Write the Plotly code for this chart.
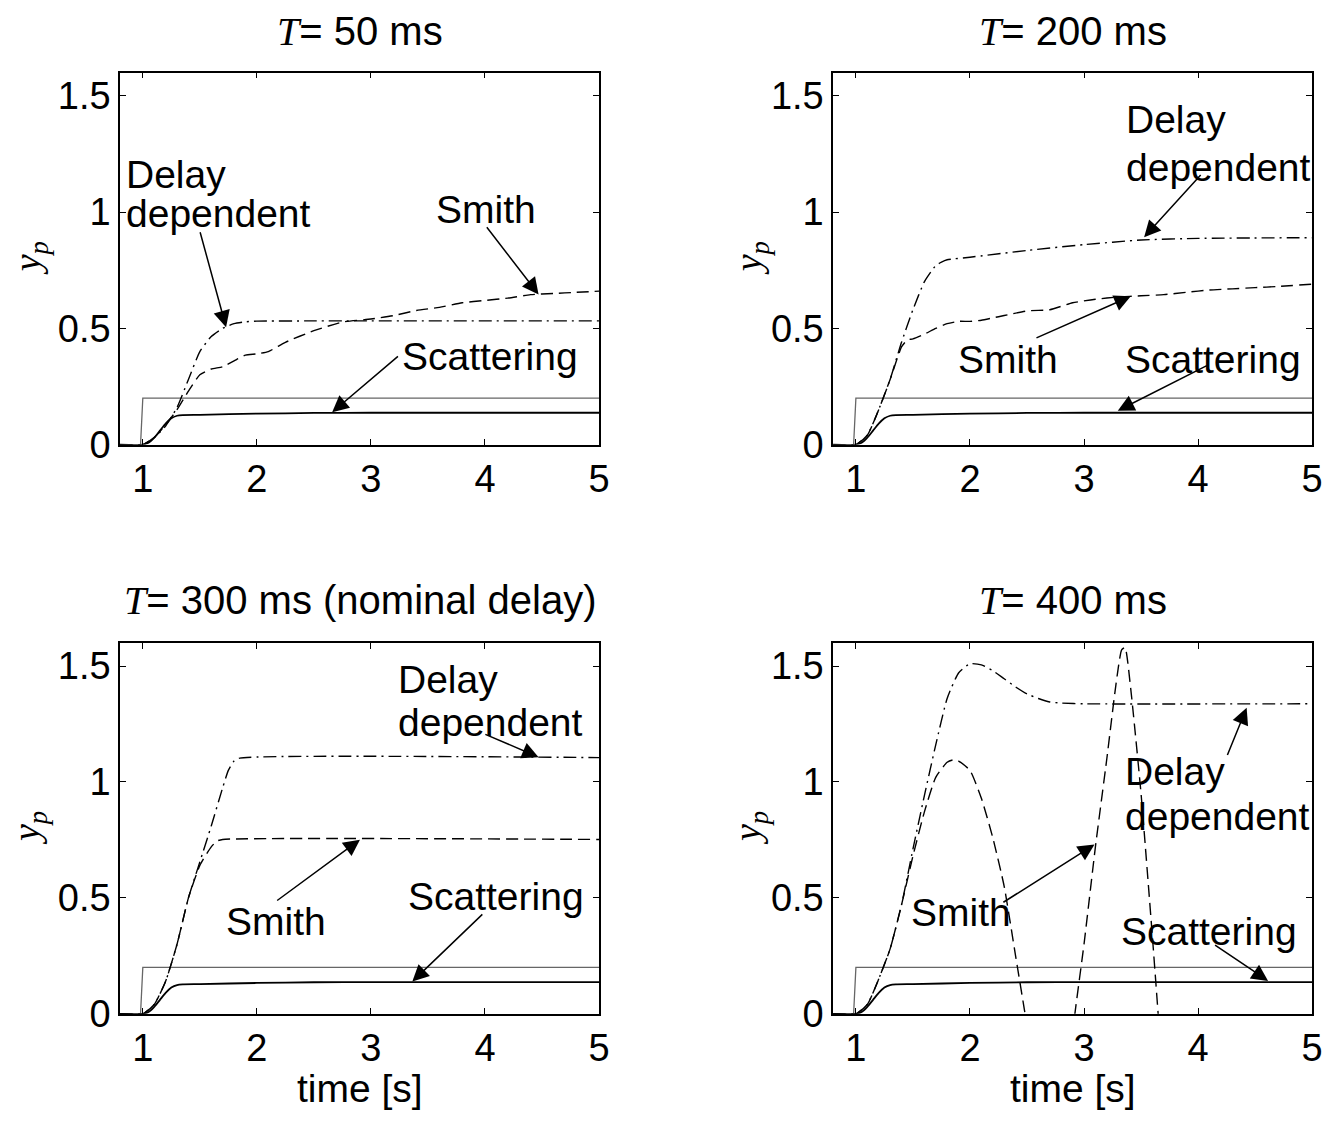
import plotly.graph_objects as go

# ---------------- data ----------------
ref_x = [0.8, 0.98, 1.0, 5.0]
ref_y = [0.0, 0.0, 0.2, 0.2]

scat_x = [0.8, 1.0, 1.05, 1.1, 1.15, 1.2, 1.25, 1.3, 1.35, 1.5, 2.0, 2.5, 3.0, 5.0]
scat_y = [0.0, 0.0, 0.008, 0.03, 0.06, 0.09, 0.113, 0.124, 0.127, 0.128, 0.133, 0.136, 0.137, 0.137]

# T = 50 ms
dd50_x = [0.8, 1.0, 1.1, 1.2, 1.3, 1.4, 1.5, 1.6, 1.7, 1.8, 1.9, 2.0, 2.5, 5.0]
dd50_y = [0.0, 0.0, 0.03, 0.08, 0.16, 0.28, 0.40, 0.465, 0.50, 0.52, 0.528, 0.531, 0.532, 0.532]
sm50_x = [0.8, 1.0, 1.1, 1.2, 1.3, 1.4, 1.5, 1.6, 1.7, 1.8, 1.9, 2.0, 2.1, 2.25, 2.5, 2.75,
          3.0, 3.2, 3.4, 3.6, 3.8, 4.0, 4.2, 4.4, 4.6, 4.8, 5.0]
sm50_y = [0.0, 0.0, 0.03, 0.085, 0.15, 0.23, 0.30, 0.325, 0.335, 0.36, 0.385, 0.39, 0.40, 0.44,
          0.49, 0.527, 0.54, 0.555, 0.577, 0.59, 0.61, 0.62, 0.63, 0.645, 0.65, 0.655, 0.66]

# T = 200 ms
dd200_x = [0.8, 1.0, 1.1, 1.2, 1.3, 1.4, 1.5, 1.6, 1.7, 1.75, 1.8, 2.0, 2.5, 3.0, 3.5, 4.0, 5.0]
dd200_y = [0.0, 0.0, 0.04, 0.15, 0.28, 0.44, 0.58, 0.70, 0.77, 0.785, 0.795, 0.806, 0.835,
           0.86, 0.88, 0.887, 0.89]
sm200_x = [0.8, 1.0, 1.1, 1.2, 1.3, 1.4, 1.45, 1.5, 1.6, 1.7, 1.8, 1.9, 2.0, 2.1, 2.2, 2.3, 2.5,
           2.7, 2.9, 3.1, 3.3, 3.5, 3.7, 3.9, 4.1, 4.3, 4.5, 4.7, 5.0]
sm200_y = [0.0, 0.0, 0.04, 0.15, 0.28, 0.42, 0.45, 0.455, 0.475, 0.50, 0.52, 0.53, 0.53, 0.535,
           0.545, 0.555, 0.575, 0.58, 0.61, 0.625, 0.635, 0.64, 0.645, 0.655, 0.665, 0.67,
           0.675, 0.68, 0.69]

# T = 300 ms
dd300_x = [0.8, 1.0, 1.1, 1.2, 1.3, 1.4, 1.5, 1.6, 1.7, 1.75, 1.8, 1.85, 5.0]
dd300_y = [0.0, 0.0, 0.04, 0.14, 0.30, 0.50, 0.655, 0.81, 0.975, 1.05, 1.09, 1.103, 1.105]
sm300_x = [0.8, 1.0, 1.1, 1.2, 1.3, 1.4, 1.5, 1.6, 1.65, 1.7, 5.0]
sm300_y = [0.0, 0.0, 0.04, 0.14, 0.30, 0.50, 0.64, 0.72, 0.745, 0.752, 0.752]

# T = 400 ms
dd400_x = [0.8, 1.0, 1.1, 1.2, 1.3, 1.4, 1.5, 1.6, 1.7, 1.8, 1.9, 2.0, 2.1, 2.2, 2.3, 2.4,
           2.5, 2.6, 2.7, 2.8, 3.0, 5.0]
dd400_y = [0.0, 0.0, 0.04, 0.15, 0.28, 0.47, 0.71, 0.94, 1.16, 1.36, 1.47, 1.51, 1.505, 1.48,
           1.445, 1.41, 1.38, 1.36, 1.345, 1.34, 1.337, 1.337]
sm400_x = [0.8, 1.0, 1.1, 1.2, 1.3, 1.4, 1.5, 1.6, 1.7, 1.8, 1.85, 1.9, 2.0, 2.1, 2.2, 2.3,
           2.4, 2.47, 2.55, 2.65, 2.75, 2.85, 2.92, 3.0, 3.1, 3.2, 3.28, 3.33, 3.36, 3.41, 3.5,
           3.6, 3.65, 3.75, 3.9, 4.2, 4.6, 5.0]
sm400_y = [0.0, 0.0, 0.04, 0.15, 0.28, 0.47, 0.68, 0.87, 1.02, 1.085, 1.095, 1.09, 1.05, 0.93,
           0.76, 0.55, 0.25, 0.04, -0.2, -0.45, -0.5, -0.3, 0.0, 0.3, 0.72, 1.1, 1.42, 1.57,
           1.58, 1.40, 0.95, 0.33, 0.0, -0.7, -1.5, -2.5, -3.0, -3.0]

titles = ["50 ms", "200 ms", "300 ms (nominal delay)", "400 ms"]
x_ticks = [1, 2, 3, 4, 5]
y_ticks = [0, 0.5, 1, 1.5]
y_tick_text = ["0", "0.5", "1", "1.5"]

# ---------------- layout geometry ----------------
W, H = 1337, 1130
FONT = "Liberation Sans, Arial, Helvetica, sans-serif"
SERIF = "Liberation Serif"
FS_TICK = 38
FS_TXT = 39
FS_TITLE = 40


def px(x):
    return x / W


def py(y):
    return 1 - y / H


panels = [
    dict(dx=(px(121), px(604)), dy=(py(453), py(74))),
    dict(dx=(px(840), px(1323)), dy=(py(453), py(74))),
    dict(dx=(px(121), px(604)), dy=(py(1033), py(655))),
    dict(dx=(px(840), px(1323)), dy=(py(1033), py(655))),
]

curves = [
    (dd50_x, dd50_y, sm50_x, sm50_y),
    (dd200_x, dd200_y, sm200_x, sm200_y),
    (dd300_x, dd300_y, sm300_x, sm300_y),
    (dd400_x, dd400_y, sm400_x, sm400_y),
]

fig = go.Figure()

SMITH_DASH = "12px,6px"
DD_DASH = "13px,5px,2px,5px"

for i, (ddx, ddy, smx, smy) in enumerate(curves):
    xa = "x" if i == 0 else f"x{i+1}"
    ya = "y" if i == 0 else f"y{i+1}"
    fig.add_trace(go.Scatter(x=ref_x, y=ref_y, mode="lines", xaxis=xa, yaxis=ya,
                             line=dict(color="#666666", width=1.3), showlegend=False))
    fig.add_trace(go.Scatter(x=scat_x, y=scat_y, mode="lines", xaxis=xa, yaxis=ya,
                             line=dict(color="black", width=1.8, shape="spline", smoothing=0.6),
                             showlegend=False))
    fig.add_trace(go.Scatter(x=smx, y=smy, mode="lines", xaxis=xa, yaxis=ya,
                             line=dict(color="black", width=1.4, dash=SMITH_DASH,
                                       shape="spline", smoothing=0.5),
                             showlegend=False))
    fig.add_trace(go.Scatter(x=ddx, y=ddy, mode="lines", xaxis=xa, yaxis=ya,
                             line=dict(color="black", width=1.4, dash=DD_DASH,
                                       shape="spline", smoothing=0.5),
                             showlegend=False))

axis_common = dict(showline=True, linecolor="black", linewidth=1.5, mirror="ticks",
                   ticks="inside", ticklen=6, tickwidth=1, tickcolor="black",
                   showgrid=False, zeroline=False,
                   tickfont=dict(family=FONT, size=FS_TICK, color="black"))

layout_axes = {}
for i, p in enumerate(panels):
    sx = "" if i == 0 else str(i + 1)
    layout_axes[f"xaxis{sx}"] = dict(domain=list(p["dx"]), range=[0.8, 5.0],
                                     anchor=f"y{sx}", tickvals=x_ticks, **axis_common)
    layout_axes[f"yaxis{sx}"] = dict(domain=list(p["dy"]), range=[0, 1.6],
                                     anchor=f"x{sx}", tickvals=y_ticks,
                                     ticktext=y_tick_text, **axis_common)

annotations = []

# titles, axis labels
for i, p in enumerate(panels):
    cx = (p["dx"][0] + p["dx"][1]) / 2
    ty = py(32) if i < 2 else py(612)
    annotations.append(dict(
        text=f"<i><span style='font-family:{SERIF}'>T</span></i>= {titles[i]}",
        x=cx, y=ty, xref="paper", yref="paper", showarrow=False,
        xanchor="center", yanchor="middle", font=dict(family=FONT, size=FS_TITLE, color="black")))
    cy = (p["dy"][0] + p["dy"][1]) / 2
    lx = px(30) if i % 2 == 0 else px(757)
    annotations.append(dict(
        text="<i>y</i><sub><i>p</i></sub>", x=lx, y=cy, xref="paper", yref="paper",
        showarrow=False, textangle=-90, xanchor="center", yanchor="middle",
        font=dict(family=SERIF, size=38, color="black")))
    if i >= 2:
        annotations.append(dict(
            text="time [s]", x=cx, y=py(1109), xref="paper", yref="paper",
            showarrow=False, xanchor="center", yanchor="middle",
            font=dict(family=FONT, size=FS_TXT, color="black")))

# text labels per panel: (text, x, y, anchor)
labels = [
    [("Delay", 0.832, 1.16, "left"), ("dependent", 0.832, 0.996, "left"),
     ("Smith", 4.005, 1.013, "center"), ("Scattering", 4.04, 0.38, "center")],
    [("Delay", 3.353, 1.398, "left"), ("dependent", 3.353, 1.194, "left"),
     ("Smith", 2.331, 0.364, "center"), ("Scattering", 4.129, 0.364, "center")],
    [("Delay", 3.224, 1.44, "left"), ("dependent", 3.224, 1.257, "left"),
     ("Smith", 2.165, 0.40, "center"), ("Scattering", 4.10, 0.505, "center")],
    [("Delay", 3.339, 1.046, "left"), ("dependent", 3.339, 0.849, "left"),
     ("Smith", 1.918, 0.435, "center"), ("Scattering", 4.092, 0.357, "center")],
]
# arrows: (tail x, tail y, head x, head y)
arrows = [
    [(1.499, 0.92, 1.73, 0.505), (4.006, 0.941, 4.47, 0.646), (3.25, 0.385, 2.66, 0.139)],
    [(4.035, 1.166, 3.527, 0.892), (2.57, 0.456, 3.41, 0.638), (4.09, 0.343, 3.296, 0.146)],
    [(3.99, 1.208, 4.47, 1.107), (2.165, 0.484, 2.904, 0.751), (3.99, 0.435, 3.363, 0.139)],
    [(4.252, 1.11, 4.426, 1.32), (2.28, 0.477, 3.092, 0.73), (4.136, 0.301, 4.614, 0.142)],
]

for i in range(4):
    sx = "" if i == 0 else str(i + 1)
    for (t, x, y, anc) in labels[i]:
        annotations.append(dict(text=t, x=x, y=y, xref=f"x{sx}", yref=f"y{sx}",
                                showarrow=False, xanchor=anc, yanchor="middle", align="left",
                                font=dict(family=FONT, size=FS_TXT, color="black")))
    for (tx, ty, hx, hy) in arrows[i]:
        annotations.append(dict(text="", x=hx, y=hy, ax=tx, ay=ty, xref=f"x{sx}", yref=f"y{sx}",
                                axref=f"x{sx}", ayref=f"y{sx}", showarrow=True,
                                arrowhead=2, arrowsize=2.2, arrowwidth=1.5, arrowcolor="black",
                                standoff=0, startstandoff=0))

fig.update_layout(width=W, height=H, margin=dict(l=0, r=0, t=0, b=0),
                  paper_bgcolor="white", plot_bgcolor="white",
                  annotations=annotations, **layout_axes)

fig.write_html("out.html", config={"displayModeBar": False},
               post_script="document.body.style.margin='0px';"
                           "document.documentElement.style.overflow='hidden';")
